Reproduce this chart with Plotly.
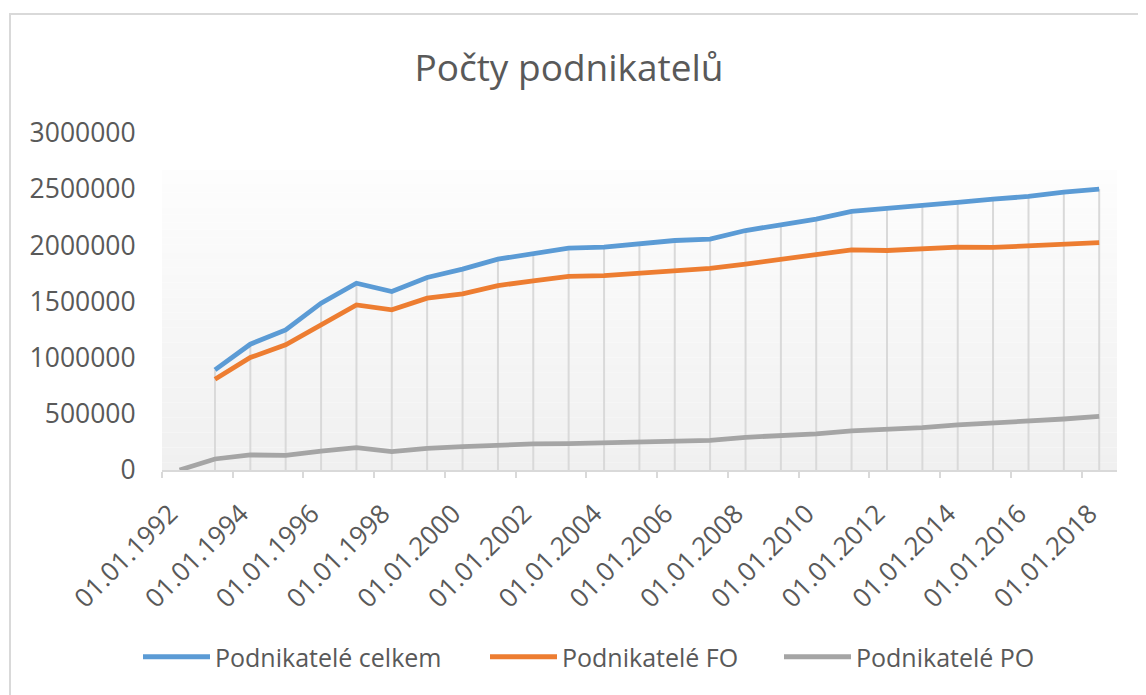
import plotly.graph_objects as go

years = list(range(1992, 2019))
dates = [f"{y}-07-01" for y in years]

celkem = [None, 891000, 1120000, 1247000, 1485000, 1663000, 1589000, 1714000,
          1788000, 1877000, 1925000, 1975000, 1984000, 2014000, 2043000, 2055000,
          2132000, 2183000, 2234000, 2302000, 2326000, 2355000, 2382000, 2412000,
          2435000, 2474000, 2501000]
fo = [None, 808000, 1001000, 1114000, 1292000, 1470000, 1426000, 1530000,
      1568000, 1642000, 1684000, 1723000, 1731000, 1752000, 1782000, 1794000,
      1833000, 1877000, 1916000, 1960000, 1954000, 1969000, 1984000, 1981000,
      1996000, 2014000, 2025000]
po = [0, 98000, 134000, 131000, 169000, 199000, 163000, 193000,
      208000, 223000, 232000, 235000, 244000, 247000, 258000, 264000,
      291000, 306000, 321000, 348000, 359000, 377000, 401000, 416000,
      439000, 454000, 477000]

series_names = ["Podnikatelé celkem", "Podnikatelé FO", "Podnikatelé PO"]
series_colors = ["#5B9BD5", "#ED7D31", "#A5A5A5"]
title_text = "Počty podnikatelů"
y_ticks = [0, 500000, 1000000, 1500000, 2000000, 2500000, 3000000]

FONT = "Open Sans"
TXT = "#595959"

# the page body has an 8px margin: figure coordinates = screen - 8
OFF = 8
W, H = 1146, 695
L, T = 162 - OFF, 133 - OFF
pw, ph = 955, 337
R = W - L - pw
B = H - T - ph

def px(xs):
    return (xs - OFF - L) / pw

def py(ys):
    return (H - B - (ys - OFF)) / ph

fig = go.Figure()

# drop lines from the highest series down to the axis
dx, dy = [], []
for i, d in enumerate(dates):
    vals = [v for v in (celkem[i], fo[i], po[i]) if v is not None]
    top = max(vals)
    if top > 0:
        dx += [d, d, None]
        dy += [0, top, None]
fig.add_trace(go.Scatter(x=dx, y=dy, mode="lines", showlegend=False, hoverinfo="skip",
                         line=dict(color="#D9D9D9", width=2)))

legend_ids = ["legend", "legend2", "legend3"]
for name, vals, col, lg in zip(series_names, [celkem, fo, po], series_colors, legend_ids):
    fig.add_trace(go.Scatter(x=dates, y=vals, mode="lines", name=name, legend=lg,
                             line=dict(color=col, width=4.8), connectgaps=False))

# gradient plot-area background (bands)
shapes = []
n = 40
top_frac = 0.891
c0 = (253, 253, 253)
c1 = (240, 240, 240)
for k in range(n):
    t = k / (n - 1)
    c = tuple(round(c0[j] + (c1[j] - c0[j]) * t) for j in range(3))
    y1 = top_frac - top_frac * k / n
    y0 = top_frac - top_frac * (k + 1) / n
    shapes.append(dict(type="rect", xref="x domain", yref="y domain", x0=0, x1=1,
                       y0=y0, y1=y1, line=dict(width=0),
                       fillcolor=f"rgb{c}", layer="below"))

# chart border (left and top visible)
shapes.append(dict(type="rect", xref="paper", yref="paper",
                   x0=px(10), x1=px(1170), y0=py(14), y1=py(730),
                   line=dict(color="#D9D9D9", width=2), fillcolor="rgba(0,0,0,0)",
                   layer="below"))

leg_common = dict(orientation="h", xanchor="left", yanchor="middle", y=py(657),
                  font=dict(family=FONT, size=25, color=TXT), itemwidth=67,
                  bgcolor="rgba(0,0,0,0)")
leg_starts = [143, 489, 783]

fig.update_layout(
    width=W, height=H,
    margin=dict(l=L, r=R, t=T, b=B),
    paper_bgcolor="white", plot_bgcolor="white",
    font=dict(family=FONT, color=TXT, size=25),
    title=dict(text=title_text, x=(569 - OFF) / W, xref="container", xanchor="center",
               y=1 - (68 - OFF) / H, yref="container", yanchor="middle",
               font=dict(family=FONT, size=37, color=TXT)),
    showlegend=True,
    legend=dict(x=px(leg_starts[0] - 5), **leg_common),
    legend2=dict(x=px(leg_starts[1] - 4), **leg_common),
    legend3=dict(x=px(leg_starts[2] - 4), **leg_common),
    shapes=shapes,
    xaxis=dict(type="date", range=["1992-01-01", "2019-01-01"],
               tick0="1992-01-01", dtick="M24", tickformat="%d.%m.%Y",
               tickangle=-45, showgrid=False, zeroline=False,
               showline=True, linecolor="#D9D9D9", linewidth=2,
               ticks="outside", ticklen=6, tickwidth=2, tickcolor="#D9D9D9",
               ticklabelshift=8, ticklabelstandoff=10,
               tickfont=dict(family=FONT, size=26, color=TXT)),
    yaxis=dict(range=[0, 3000000], tickvals=y_ticks, ticktext=[str(v) for v in y_ticks],
               showgrid=False, zeroline=False, showline=False,
               ticks="outside", ticklen=20, tickcolor="rgba(0,0,0,0)",
               tickfont=dict(family=FONT, size=26.5, color=TXT)),
    hovermode=False,
)

fig.write_html("out.html")
